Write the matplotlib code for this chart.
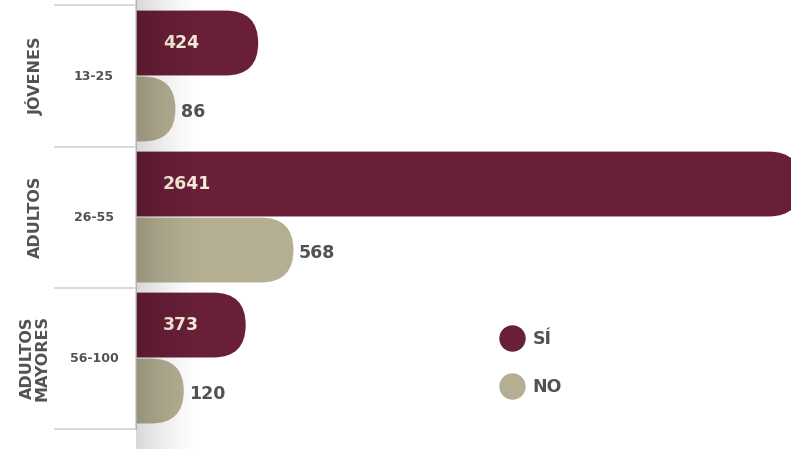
import numpy as np
import matplotlib.pyplot as plt
from matplotlib.patches import FancyBboxPatch
from matplotlib.lines import Line2D

groups = ["JÓVENES", "ADULTOS", "ADULTOS\nMAYORES"]
ranges = ["13-25", "26-55", "56-100"]
si_values = [424, 2641, 373]
no_values = [86, 568, 120]
legend_labels = ["SÍ", "NO"]

SI_COLOR = "#691f38"
NO_COLOR = "#b4af93"
TEXT_GRAY = "#505353"
CREAM = "#f5ecd8"
LINE_GRAY = "#d2d2d2"

W, H = 791, 449
fig = plt.figure(figsize=(W / 100, H / 100), dpi=100)
fig.patch.set_facecolor("white")

left_px = 136
ax = fig.add_axes([left_px / W, 0, (W - left_px) / W, 1])
xmin, xmax = -75, 2600
ymin, ymax = -0.539, 2.645
ax.set_xlim(xmin, xmax)
ax.set_ylim(ymax, ymin)
ax.axis("off")

# aspect so the bar ends are true semicircles
x_per_px = (xmax - xmin) / (W - left_px)
y_per_px = (ymax - ymin) / H
asp = y_per_px / x_per_px

bar_h = 0.46
off = 0.234

def rounded_bar(y, value, color):
    x0 = xmin - 400
    p = FancyBboxPatch((x0, y - bar_h / 2), value - x0, bar_h,
                       boxstyle=f"round,pad=0,rounding_size={bar_h / asp / 2}",
                       mutation_aspect=asp, fc=color, ec="none", zorder=2)
    ax.add_patch(p)

for i in range(len(groups)):
    rounded_bar(i - off, si_values[i], SI_COLOR)
    rounded_bar(i + off, no_values[i], NO_COLOR)
    ax.text(0.041, i - off, str(si_values[i]), transform=ax.get_yaxis_transform(),
            color=CREAM, fontsize=12.5, fontweight="bold", va="center", ha="left", zorder=5)
    ax.annotate(str(no_values[i]), (no_values[i], i + off + 0.02), xytext=(4, 0),
                textcoords="offset points", color=TEXT_GRAY, fontsize=12.5,
                fontweight="bold", va="center", ha="left", zorder=5)

# left panel lines and labels
lx = (55 - left_px) / (W - left_px)
trans = ax.get_yaxis_transform()
for b in [-0.5, 0.5, 1.5, 2.5]:
    ax.plot([lx, 0], [b, b], transform=trans, color=LINE_GRAY, lw=1.2, clip_on=False, zorder=1)
ax.plot([0, 0], [ymin, 2.5], transform=trans, color=LINE_GRAY, lw=1.2, clip_on=False, zorder=6)

gx = (35 - left_px) / (W - left_px)
rx = (94 - left_px) / (W - left_px)
for i in range(len(groups)):
    ax.text(gx, i, groups[i], transform=trans, rotation=90, ha="center", va="center",
            color=TEXT_GRAY, fontsize=11.5, fontweight="bold", linespacing=0.95, clip_on=False)
    ax.text(rx, i, ranges[i], transform=trans, ha="center", va="center",
            color=TEXT_GRAY, fontsize=9, fontweight="bold", clip_on=False)

# soft shadow to the right of the axis line
sh = fig.add_axes([left_px / W, 0, 70 / W, 1], zorder=3)
fade = np.linspace(1, 0, 200) ** 1.6
img = np.zeros((1, 200, 4))
img[..., 3] = 0.16 * fade
sh.imshow(img, aspect="auto", extent=[0, 1, 0, 1])
sh.axis("off")
sh.patch.set_alpha(0)

handles = [Line2D([], [], marker="o", ls="", color=c, markersize=18) for c in [SI_COLOR, NO_COLOR]]
leg = fig.legend(handles, legend_labels, loc="center left", bbox_to_anchor=(486 / W, 1 - 363 / H),
                 frameon=False, fontsize=12.5, labelspacing=1.75, handletextpad=0.6,
                 handlelength=1.2)
for t in leg.get_texts():
    t.set_color(TEXT_GRAY)
    t.set_fontweight("bold")

fig.savefig("out.png", dpi=100)
